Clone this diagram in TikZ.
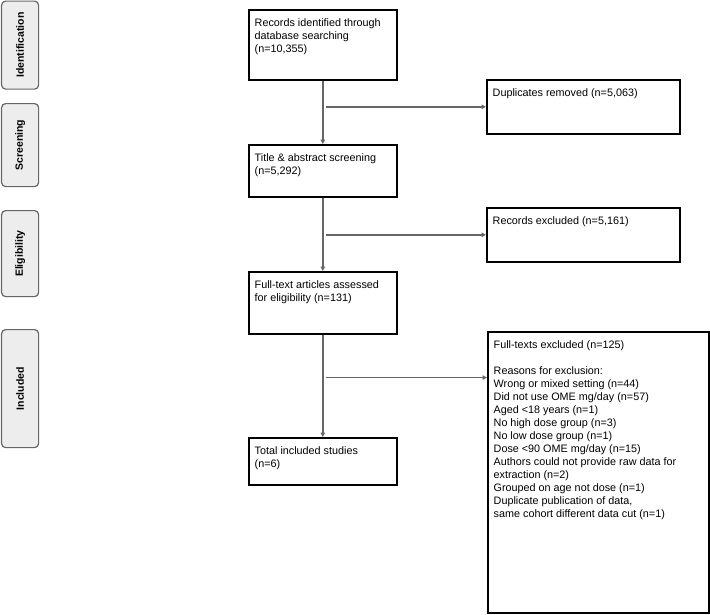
\documentclass[tikz,border=0pt]{standalone}
\usepackage{fontspec}
\usepackage{graphicx}
\setmainfont{Liberation Sans}
\usetikzlibrary{arrows.meta,calc}
\begin{document}
\begin{tikzpicture}[x=1pt,y=-1pt]
\tikzset{box/.style = {draw, line width=1.6pt, anchor=north west, inner sep=0pt}}
\tikzset{boxtext/.style = {anchor=north west, align=left, inner xsep=6.5pt, inner ysep=9pt, font=\fontsize{10.8}{13}\selectfont}}
\tikzset{stage/.style = {draw=black!60, fill=black!7, line width=1.2pt, rounded corners=4pt, minimum width=37pt, anchor=north west, inner sep=0pt, font=\bfseries\fontsize{10.5}{12}\selectfont}}
\tikzset{edge/.style = {-{Triangle[length=4.5pt,width=4.5pt]}, draw=black!60, line width=1.4pt}}
\useasboundingbox (0,0) rectangle (710,614);
% stage labels on the left
\node[stage, minimum height=88pt](ident) at (1,0.5) {\rotatebox{90}{Identification}};
\node[stage, minimum height=83pt](screening) at (1,103) {\rotatebox{90}{Screening}};
\node[stage, minimum height=86pt](eligib) at (1,210) {\rotatebox{90}{Eligibility}};
\node[stage, minimum height=118pt](incl) at (1,329) {\rotatebox{90}{Included}};
% main column
\node[box, minimum width=148pt, minimum height=70pt](records) at (248,9) {};
\node[boxtext] at (records.north west) {Records identified through\\database searching\\(n=10,355)};
\node[box, minimum width=148pt, minimum height=52pt](screen) at (248,144) {};
\node[boxtext] at (screen.north west) {Title \& abstract screening\\(n=5,292)};
\node[box, minimum width=148pt, minimum height=62pt](fulltext) at (248,271) {};
\node[boxtext] at (fulltext.north west) {Full-text articles assessed\\for eligibility (n=131)};
\node[box, minimum width=148pt, minimum height=47pt](included) at (248,437) {};
\node[boxtext] at (included.north west) {Total included studies\\(n=6)};
% exclusion column
\node[box, minimum width=193pt, minimum height=54pt](dups) at (486,79) {};
\node[boxtext] at (dups.north west) {Duplicates removed (n=5,063)};
\node[box, minimum width=193pt, minimum height=54pt](excl) at (486,207) {};
\node[boxtext] at (excl.north west) {Records excluded (n=5,161)};
\node[box, minimum width=221pt, minimum height=281pt](ftexcl) at (487,331) {};
\node[boxtext] at (ftexcl.north west) {Full-texts excluded (n=125)\\[13pt]
Reasons for exclusion:\\
Wrong or mixed setting (n=44)\\
Did not use OME mg/day (n=57)\\
Aged <18 years (n=1)\\
No high dose group (n=3)\\
No low dose group (n=1)\\
Dose <90 OME mg/day (n=15)\\
Authors could not provide raw data for\\
extraction (n=2)\\
Grouped on age not dose (n=1)\\
Duplicate publication of data,\\
same cohort different data cut (n=1)};
% connectors
\coordinate (split) at ($(fulltext.south)+(3,43)$);
\draw[edge] (records.south) -- (screen.north);
\draw[edge] (screen.south) -- (fulltext.north);
\draw[edge] (fulltext.south) -- (included.north);
\draw[edge] ($(records.south |- dups.west)+(3,0)$) -- (dups.west);
\draw[edge] ($(screen.south |- excl.west)+(3,0)$) -- (excl.west);
\draw[edge] (split) -- (split -| ftexcl.west);
\end{tikzpicture}
\end{document}
